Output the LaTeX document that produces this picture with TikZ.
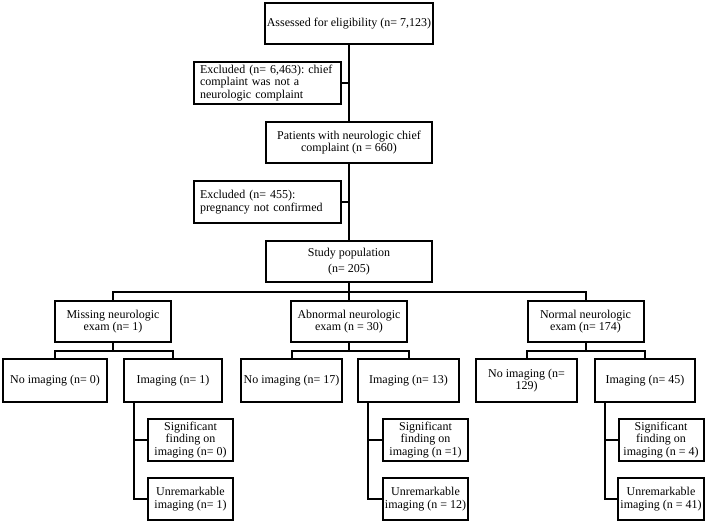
\documentclass[tikz,border=0pt]{standalone}
\usepackage{fontspec}
\setmainfont{Liberation Serif}
\usetikzlibrary{positioning, calc}
\frenchspacing

\begin{document}
\begin{tikzpicture}[
    x=1pt, y=-1pt,
    box/.style={draw, line width=2pt, align=center, inner sep=2pt, font=\fontsize{12}{12.5}\selectfont},
    exclbox/.style={box, align=left, inner xsep=6pt, text width=135pt, minimum height=42pt},
    topbox/.style={box, minimum width=166pt, minimum height=41pt},
    grpbox/.style={box, minimum width=116pt, minimum height=41pt},
    armbox/.style={box, minimum width=101pt, minimum height=43pt},
    endbox/.style={box, minimum width=85pt, minimum height=42pt},
    link/.style={line width=2pt}
]
    \useasboundingbox (0,0) rectangle (706,524);

    % Enrollment
    \node[topbox] (elig)     at (349,24)    {Assessed for eligibility (n= 7,123)};
    \node[exclbox] (excl1)   at (267.5,83)  {Excluded (n= 6,463): chief\\complaint was not a\\neurologic complaint};
    \node[topbox] (patients) at (349,142.5) {Patients with neurologic chief\\complaint (n = 660)};
    \node[exclbox] (excl2)   at (267.5,202) {Excluded (n= 455):\\pregnancy not confirmed};
    \node[topbox] (study)    at (349,261.5) {Study population\\[3pt](n= 205)};

    % Exam groups
    \node[grpbox] (miss) at (113,321.5)   {Missing neurologic\\exam (n= 1)};
    \node[grpbox] (abn)  at (349,321.5)   {Abnormal neurologic\\exam (n = 30)};
    \node[grpbox] (norm) at (585.5,321.5) {Normal neurologic\\exam (n= 174)};

    % Imaging
    \node[armbox, minimum width=104pt] (miss-no)  at (55,380.5)    {No imaging (n= 0)};
    \node[armbox, minimum width=98pt]  (miss-img) at (173,380.5)   {Imaging (n= 1)};
    \node[armbox] (abn-no)   at (291.5,380.5) {No imaging (n= 17)};
    \node[armbox] (abn-img)  at (408.5,380.5) {Imaging (n= 13)};
    \node[armbox] (norm-no)  at (526.5,380.5) {No imaging (n=\\129)};
    \node[armbox, minimum width=100pt] (norm-img) at (645,380.5) {Imaging (n= 45)};

    % Findings
    \node[endbox] (miss-sig) at (190.5,440) {Significant\\finding on\\imaging (n= 0)};
    \node[endbox] (miss-unr) at (190.5,499) {Unremarkable\\imaging (n= 1)};
    \node[endbox] (abn-sig)  at (425.5,440) {Significant\\finding on\\imaging (n =1)};
    \node[endbox] (abn-unr)  at (425.5,499) {Unremarkable\\imaging (n = 12)};
    \node[endbox] (norm-sig) at (661,440)   {Significant\\finding on\\imaging (n = 4)};
    \node[endbox] (norm-unr) at (661,499)   {Unremarkable\\imaging (n = 41)};

    % Spine
    \draw[link] (elig.south) -- (patients.north);
    \draw[link] (patients.south) -- (study.north);
    \draw[link] (excl1.east) -- (excl1.east -| elig.south);
    \draw[link] (excl2.east) -- (excl2.east -| elig.south);

    % Split into groups
    \coordinate (bus) at ($(study.south)!0.5!(abn.north)$);
    \draw[link] (study.south) -- (abn.north);
    \draw[link] (miss.north) |- (bus) -| (norm.north);

    \foreach \g in {miss,abn,norm}{
        \draw[link] (\g.south) -- ($(\g.south)!0.5!(\g.south |- \g-no.north)$);
        \draw[link] (\g-no.north) |- ($(\g.south)!0.5!(\g.south |- \g-no.north)$) -| (\g-img.north);
        \draw[link] ([xshift=11pt]\g-img.south west) |- (\g-sig.west);
        \draw[link] ([xshift=11pt]\g-img.south west) |- (\g-unr.west);
    }
\end{tikzpicture}
\end{document}
